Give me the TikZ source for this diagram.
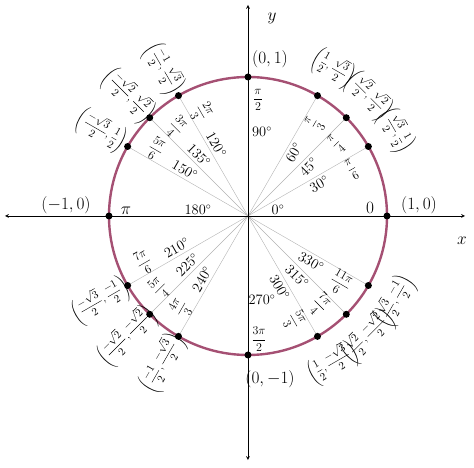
\documentclass[tikz,border=0pt]{standalone}
\begin{document}
\begin{tikzpicture}[x=1pt,y=1pt,
  lbl/.style={font=\fontsize{16}{18}\selectfont,inner sep=1pt},
  co/.style={font=\fontsize{10.5}{12}\selectfont,inner sep=0pt},
  rad/.style={font=\fontsize{13}{15}\selectfont,inner sep=0pt},
  deg/.style={font=\fontsize{14}{16}\selectfont,inner sep=0pt},
  dot/.style={circle,fill=black,inner sep=0pt,minimum size=7pt},
  ray/.style={gray!60,line width=0.4pt}]
\useasboundingbox (-248,-252) rectangle (226,216);
\def\R{139}
\foreach \a in {30,45,60,120,135,150,210,225,240,300,315,330}
  \draw[ray] (0,0) -- (\a:\R);
\draw[line width=2.4pt,color={rgb,255:red,165;green,80;blue,115}] (0,0) circle (\R);
\draw[-stealth,line width=0.7pt] (0,0) -- (-243,0);
\draw[-stealth,line width=0.7pt] (0,0) -- (217,0);
\draw[-stealth,line width=0.7pt] (0,0) -- (0,211);
\draw[-stealth,line width=0.7pt] (0,0) -- (0,-244);
\node[lbl] (xl) at (214,-25) {$x$};
\node[lbl] (yl) at (24,198) {$y$};
\foreach \a in {0,30,45,60,90,120,135,150,180,210,225,240,270,300,315,330}
  \node[dot] (p\a) at (\a:\R) {};
\node[lbl] (c90) at (22,157) {$(0,1)$};
\node[lbl] (c270) at (22,-163) {$(0,-1)$};
\node[lbl] (c0) at (171,11) {$(1,0)$};
\node[lbl] (c180) at (-182,11) {$(-1,0)$};
\node[rad] (r90) at (10,116) {$\displaystyle\frac{\pi}{2}$};
\node[lbl] (r0) at (122,8) {$0$};
\node[lbl] (r180) at (-122,5) {$\pi$};
\node[rad] (r270) at (11,-123) {$\displaystyle\frac{3\pi}{2}$};
\node[deg] (d90) at (14,84) {$90^\circ$};
\node[deg] (d0) at (30,6) {$0^\circ$};
\node[deg] (d180) at (-50,6) {$180^\circ$};
\node[deg] (d270) at (14,-84) {$270^\circ$};
\foreach \a/\rd/\cc/\rot/\crot in {
  30/{\frac{\pi}{6}}/{\left(\frac{\sqrt3}{2},\frac12\right)}/30/-60,
  45/{\frac{\pi}{4}}/{\left(\frac{\sqrt2}{2},\frac{\sqrt2}{2}\right)}/45/-45,
  60/{\frac{\pi}{3}}/{\left(\frac12,\frac{\sqrt3}{2}\right)}/60/-30,
  120/{\frac{2\pi}{3}}/{\left(\frac{-1}{2},\frac{\sqrt3}{2}\right)}/-60/-60,
  135/{\frac{3\pi}{4}}/{\left(\frac{-\sqrt2}{2},\frac{\sqrt2}{2}\right)}/-45/-45,
  150/{\frac{5\pi}{6}}/{\left(\frac{-\sqrt3}{2},\frac12\right)}/-30/-30,
  210/{\frac{7\pi}{6}}/{\left(\frac{-\sqrt3}{2},\frac{-1}{2}\right)}/30/30,
  225/{\frac{5\pi}{4}}/{\left(\frac{-\sqrt2}{2},\frac{-\sqrt2}{2}\right)}/45/45,
  240/{\frac{4\pi}{3}}/{\left(\frac{-1}{2},\frac{-\sqrt3}{2}\right)}/60/60,
  300/{\frac{5\pi}{3}}/{\left(\frac12,\frac{-\sqrt3}{2}\right)}/-60/30,
  315/{\frac{7\pi}{4}}/{\left(\frac{\sqrt2}{2},\frac{-\sqrt2}{2}\right)}/-45/45,
  330/{\frac{11\pi}{6}}/{\left(\frac{\sqrt3}{2},\frac{-1}{2}\right)}/-30/60}
{
  \node[deg,rotate=\rot] (dg\a) at (\a-6:78) {$\a^\circ$};
  \node[rad,rotate=\rot] (rd\a) at (\a-6:114) {$\displaystyle\rd$};
  \node[co,rotate=\crot] (co\a) at (\a:170) {$\displaystyle\cc$};
}
\end{tikzpicture}
\end{document}
